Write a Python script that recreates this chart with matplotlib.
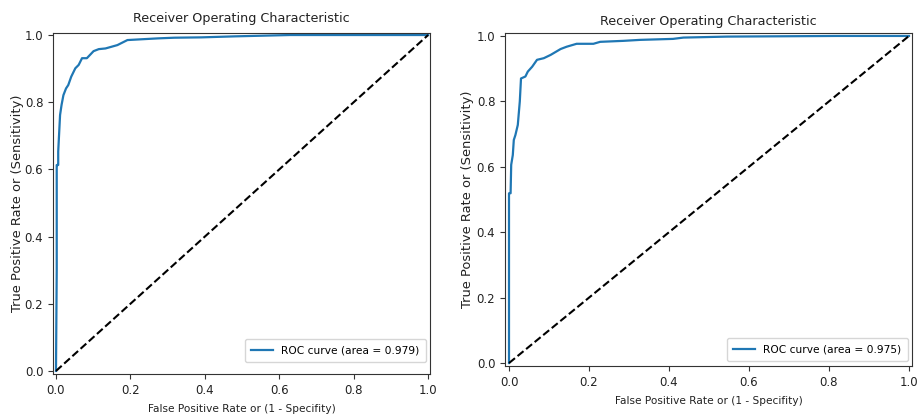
import matplotlib
matplotlib.use("Agg")
import matplotlib.pyplot as plt

# Left model ROC
fpr_left = [0.0, 0.002, 0.002, 0.006, 0.006, 0.011, 0.015, 0.020, 0.027, 0.033, 0.041,
            0.052, 0.061, 0.070, 0.083, 0.101, 0.115, 0.133, 0.165, 0.192, 0.274,
            0.318, 0.39, 0.48, 0.63, 1.0]
tpr_left = [0.0, 0.30, 0.613, 0.613, 0.653, 0.762, 0.792, 0.821, 0.841, 0.851, 0.876,
            0.901, 0.911, 0.931, 0.931, 0.952, 0.958, 0.960, 0.970, 0.985, 0.990,
            0.992, 0.993, 0.996, 1.0, 1.0]
auc_left = 0.979

# Right model ROC
fpr_right = [0.0, 0.0, 0.004, 0.004, 0.0055, 0.0095, 0.012, 0.016, 0.022, 0.027, 0.030,
             0.041, 0.047, 0.058, 0.070, 0.087, 0.104, 0.129, 0.144, 0.169, 0.211,
             0.228, 0.286, 0.328, 0.41, 0.436, 0.545, 0.82, 1.0]
tpr_right = [0.0, 0.519, 0.519, 0.52, 0.606, 0.636, 0.682, 0.697, 0.728, 0.80, 0.87,
             0.876, 0.891, 0.906, 0.927, 0.932, 0.942, 0.960, 0.967, 0.976, 0.976,
             0.982, 0.985, 0.988, 0.991, 0.995, 0.998, 1.0, 1.0]
auc_right = 0.975

title = "Receiver Operating Characteristic"
xlabel = "False Positive Rate or (1 - Specifity)"
ylabel = "True Positive Rate or (Sensitivity)"

W, H = 921, 417
fig = plt.figure(figsize=(W / 100, H / 100), dpi=100)

def box(l, r, t, b):
    return [l / W, 1 - b / H, (r - l) / W, (b - t) / H]

panels = [
    dict(rect=box(53, 430, 33, 374), fpr=fpr_left, tpr=tpr_left, auc=auc_left,
         xlim=(-0.008, 1.005), ylim=(-0.009, 1.006), leg=(0.989, 0.035),
         ylab=-0.077, title_pad=8),
    dict(rect=box(505, 912, 33, 366), fpr=fpr_right, tpr=tpr_right, auc=auc_right,
         xlim=(-0.01, 1.0075), ylim=(-0.009, 1.009), leg=(0.990, 0.015),
         ylab=-0.076, title_pad=6),
]

for p in panels:
    ax = fig.add_axes(p["rect"])
    ax.plot(p["fpr"], p["tpr"], color="#1f77b4", lw=1.6,
            label="ROC curve (area = %0.3f)" % p["auc"])
    ax.plot([0, 1], [0, 1], "k--", lw=1.5)
    ax.set_xlim(*p["xlim"])
    ax.set_ylim(*p["ylim"])
    ax.set_xticks([0, 0.2, 0.4, 0.6, 0.8, 1.0])
    ax.set_yticks([0, 0.2, 0.4, 0.6, 0.8, 1.0])
    ax.tick_params(labelsize=8.5, length=3.5, color="#333333", labelcolor="#222222")
    for s in ax.spines.values():
        s.set_color("#333333")
    ax.set_title(title, fontsize=9.2, color="#222222", pad=p["title_pad"])
    ax.set_xlabel(xlabel, fontsize=7.6, color="#222222", labelpad=5)
    ax.set_ylabel(ylabel, fontsize=9.4, color="#222222")
    ax.yaxis.set_label_coords(p["ylab"], 0.5)
    ax.legend(loc="lower right", fontsize=7.7, borderpad=0.6, borderaxespad=0.0,
              bbox_to_anchor=p["leg"])

fig.savefig("out.png", dpi=100)
